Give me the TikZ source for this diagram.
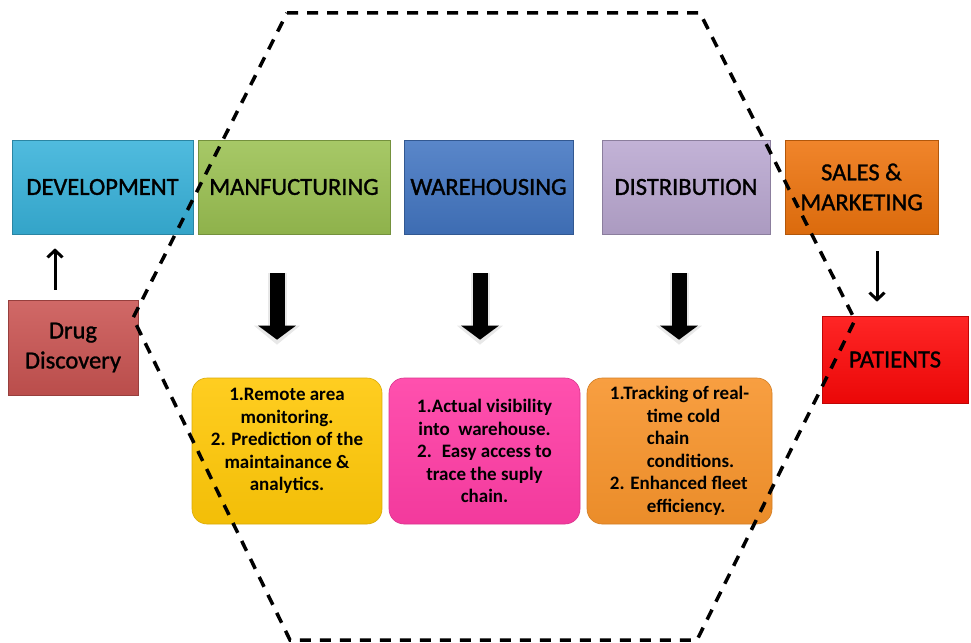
\documentclass[tikz,border=0pt]{standalone}
\usepackage{fontspec}
\setmainfont{Carlito}
\newfontfamily\stagefont[FakeBold=1.2]{Carlito}
\usetikzlibrary{arrows.meta,positioning}

\definecolor{devcol}{HTML}{38B2DA}
\definecolor{mancol}{HTML}{9BC152}
\definecolor{warecol}{HTML}{4376C2}
\definecolor{distcol}{HTML}{BAA8D1}
\definecolor{salescol}{HTML}{EE740E}
\definecolor{drugcol}{HTML}{CA5452}
\definecolor{patcol}{HTML}{FF0808}
\definecolor{yelcol}{HTML}{FFC808}
\definecolor{pinkcol}{HTML}{FF3DA5}
\definecolor{orgcol}{HTML}{F7942C}

\tikzset{
  stage/.style={draw=#1!75!black, line width=0.6pt, top color=#1!88!white,
    bottom color=#1!92!black, inner sep=0pt, align=center,
    font=\stagefont\fontsize{24.5}{30}\selectfont},
  info/.style={draw=#1!85!black, line width=0.6pt, top color=#1!90!white,
    bottom color=#1!95!black, rounded corners=15pt, inner sep=0pt,
    minimum width=190pt, minimum height=146pt,
    font=\bfseries\fontsize{19}{22.5}\selectfont},
  thinarrow/.style={line width=3pt, -{Straight Barb[length=7pt,width=15pt]}},
  fatarrow/.style={line width=15pt, -{Triangle[length=14pt,width=37pt]}},
  fatglow/.style={draw=gray!18, line width=19pt, -{Triangle[length=19pt,width=45pt]}},
  hexline/.style={line width=3.5pt, dash pattern=on 11pt off 9pt}
}

\begin{document}
\begin{tikzpicture}[x=1pt,y=-1pt]
\useasboundingbox (0,0) rectangle (971,642);

% Supply chain stages
\node[stage=devcol, minimum width=181pt, minimum height=94pt] (dev) at (102.5,187) {DEVELOPMENT};
\node[stage=mancol, minimum width=192pt, minimum height=94pt] (man) at (294,187) {MANFUCTURING};
\node[stage=warecol, minimum width=169pt, minimum height=94pt] (ware) at (488.5,187) {WAREHOUSING};
\node[stage=distcol, minimum width=168pt, minimum height=94pt] (dist) at (686,187) {DISTRIBUTION};
\node[stage=salescol, minimum width=153pt, minimum height=94pt] (sales) at (861.5,187) {SALES \&\\MARKETING};

\node[stage=drugcol, minimum width=130pt, minimum height=95pt] (drug) at (73,347.5) {Drug\\Discovery};
\node[stage=patcol, minimum width=146pt, minimum height=87pt] (pat) at (895,359.5) {PATIENTS};

% IoT benefits per stage
\node[info=yelcol, align=center] (yel) at (287,451)
  {1.Remote area\\monitoring.\\2. Prediction of the\\maintainance \&\\analytics.\\\mbox{}};
\node[info=pinkcol, minimum width=191pt, align=center] (pink) at (484.5,451)
  {1.Actual visibility\\into~ warehouse.\\2.~ Easy access to\\trace the suply\\chain.};
\node[info=orgcol, minimum width=185pt, align=left] (org) at (679.5,451)
  {1.Tracking of real-\\\hspace*{37pt}time cold\\\hspace*{37pt}chain\\\hspace*{37pt}conditions.\\2. Enhanced fleet\\\hspace*{37pt}efficiency.};

% Arrows
\draw[thinarrow, shorten <=10pt, shorten >=14pt]
  ([xshift=-18pt]drug.north) -- ([xshift=-18pt]drug.north |- dev.south);
\draw[thinarrow, shorten <=17pt, shorten >=14pt]
  ([xshift=15.5pt]sales.south) -- ([xshift=15.5pt]sales.south |- pat.north);

\foreach \a/\b/\dx in {man/yel/-10, ware/pink/-4.5, dist/org/-0.5} {
  \draw[fatglow, shorten <=39pt, shorten >=33pt]
    ([xshift=\dx pt]\b.north |- \a.south) -- ([xshift=\dx pt]\b.north);
  \draw[fatarrow, shorten <=39pt, shorten >=38pt]
    ([xshift=\dx pt]\b.north |- \a.south) -- ([xshift=\dx pt]\b.north);
}

% Dashed hexagon round the IoT stages
\draw[hexline] (287,13) -- (700,13) -- (855,320) -- (697,640) -- (290,640) -- (133,318) -- cycle;
\end{tikzpicture}
\end{document}
